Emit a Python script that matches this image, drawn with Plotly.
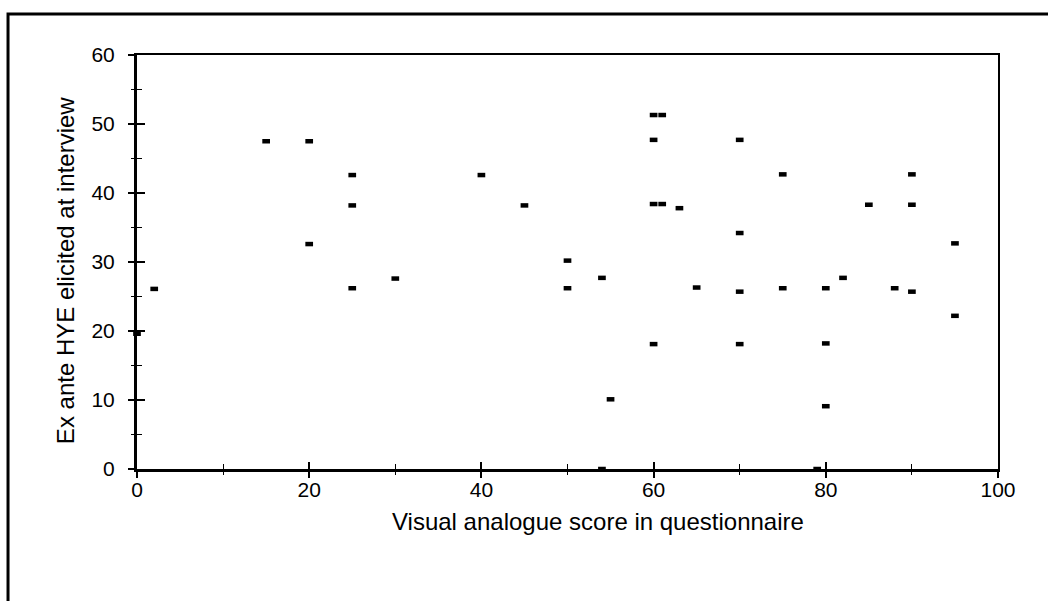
import plotly.graph_objects as go

# Visual analogue score (questionnaire) vs ex ante HYE elicited at interview
vas_score = [0, 2, 15, 20, 20, 25, 25, 25, 30, 40, 45, 50, 50, 54, 54, 55,
             60, 61, 60, 60, 61, 63, 60, 65, 70, 70, 70, 70, 75, 75, 79,
             80, 80, 80, 82, 85, 88, 90, 90, 90, 95, 95]
hye_interview = [19.6, 26.1, 47.5, 47.5, 32.6, 42.6, 38.2, 26.2, 27.6, 42.6,
                 38.2, 30.2, 26.2, 27.7, 0, 10.1, 51.3, 51.3, 47.7, 38.4, 38.4,
                 37.8, 18.1, 26.3, 47.7, 34.2, 25.7, 18.1, 42.7, 26.2, 0, 26.2,
                 18.2, 9.1, 27.7, 38.3, 26.2, 42.7, 38.3, 25.7, 32.7, 22.2]

x_ticks = [0, 20, 40, 60, 80, 100]
y_ticks = [0, 10, 20, 30, 40, 50, 60]
x_title = "Visual analogue score in questionnaire"
y_title = "Ex ante HYE elicited at interview"

FONT = "Liberation Sans, Arial, Helvetica, sans-serif"
TICK_FONT = dict(family=FONT, size=21, color="black")
TITLE_FONT = dict(family=FONT, size=24, color="black")

fig = go.Figure()
fig.add_trace(go.Scatter(
    x=vas_score, y=hye_interview, mode="markers",
    marker=dict(symbol="line-ew", size=5.5, color="black",
                line=dict(color="black", width=4.5)),
    cliponaxis=False, showlegend=False, hoverinfo="x+y",
))

common_x = dict(range=[0, 100], showgrid=False, zeroline=False)
common_y = dict(range=[0, 60], showgrid=False, zeroline=False)

fig.update_layout(
    width=1048, height=601,
    margin=dict(l=137, r=50, t=55, b=132),
    paper_bgcolor="white", plot_bgcolor="white",
    font=dict(family=FONT, color="black"),
    # bottom axis: line, labels and inward half of each tick
    xaxis=dict(**common_x, anchor="y", showline=True, linewidth=3, linecolor="black",
               tickmode="array", tickvals=x_ticks, ticktext=[str(v) for v in x_ticks],
               ticks="inside", ticklen=7, tickwidth=1.5, tickcolor="black",
               ticklabelstandoff=0, tickfont=TICK_FONT,
               minor=dict(dtick=10, ticks="inside", ticklen=5, tickwidth=1.2,
                          tickcolor="black", showgrid=False)),
    # outward half of the bottom ticks
    xaxis2=dict(**common_x, overlaying="x", anchor="y", side="bottom",
                showline=False, showticklabels=False,
                tickmode="array", tickvals=x_ticks,
                ticks="outside", ticklen=8, tickwidth=1.5, tickcolor="black",
                minor=dict(dtick=10, ticks="outside", ticklen=5, tickwidth=1.2,
                           tickcolor="black", showgrid=False)),
    # top frame line
    xaxis3=dict(**common_x, overlaying="x", anchor="y", side="top",
                showline=True, linewidth=2, linecolor="black",
                showticklabels=False, ticks=""),
    yaxis=dict(**common_y, anchor="x", showline=True, linewidth=3, linecolor="black",
               tickmode="array", tickvals=y_ticks, ticktext=[str(v) for v in y_ticks],
               ticks="inside", ticklen=8, tickwidth=1.5, tickcolor="black",
               ticklabelstandoff=15, tickfont=TICK_FONT,
               minor=dict(dtick=5, ticks="inside", ticklen=5, tickwidth=1.2,
                          tickcolor="black", showgrid=False)),
    # outward half of the left ticks
    yaxis2=dict(**common_y, overlaying="y", anchor="x", side="left",
                showline=False, showticklabels=False,
                tickmode="array", tickvals=y_ticks,
                ticks="outside", ticklen=8, tickwidth=1.5, tickcolor="black",
                minor=dict(dtick=5, ticks="outside", ticklen=5, tickwidth=1.2,
                           tickcolor="black", showgrid=False)),
    # right frame line
    yaxis3=dict(**common_y, overlaying="y", anchor="x", side="right",
                showline=True, linewidth=2, linecolor="black",
                showticklabels=False, ticks=""),
)

# companion axes carry no data but share the same ranges
fig.add_trace(go.Scatter(x=[None], y=[None], xaxis="x2", yaxis="y2",
                         showlegend=False, hoverinfo="skip"))
fig.add_trace(go.Scatter(x=[None], y=[None], xaxis="x3", yaxis="y3",
                         showlegend=False, hoverinfo="skip"))

# axis titles
fig.add_annotation(text=y_title, textangle=-90, showarrow=False,
                   xref="paper", yref="paper", x=-0.0836, y=0.478,
                   xanchor="center", yanchor="middle", font=TITLE_FONT)
fig.add_annotation(text=x_title, showarrow=False,
                   xref="paper", yref="paper", x=0.535, y=-0.126,
                   xanchor="center", yanchor="middle", font=TITLE_FONT)

# outer figure border (open on the right and bottom)
fig.add_shape(type="rect", xref="paper", yref="paper",
              x0=-0.1498, x1=1.08, y0=-0.40, y1=1.099,
              line=dict(color="black", width=3), fillcolor="rgba(0,0,0,0)",
              layer="above")

fig.write_html("out.html")
